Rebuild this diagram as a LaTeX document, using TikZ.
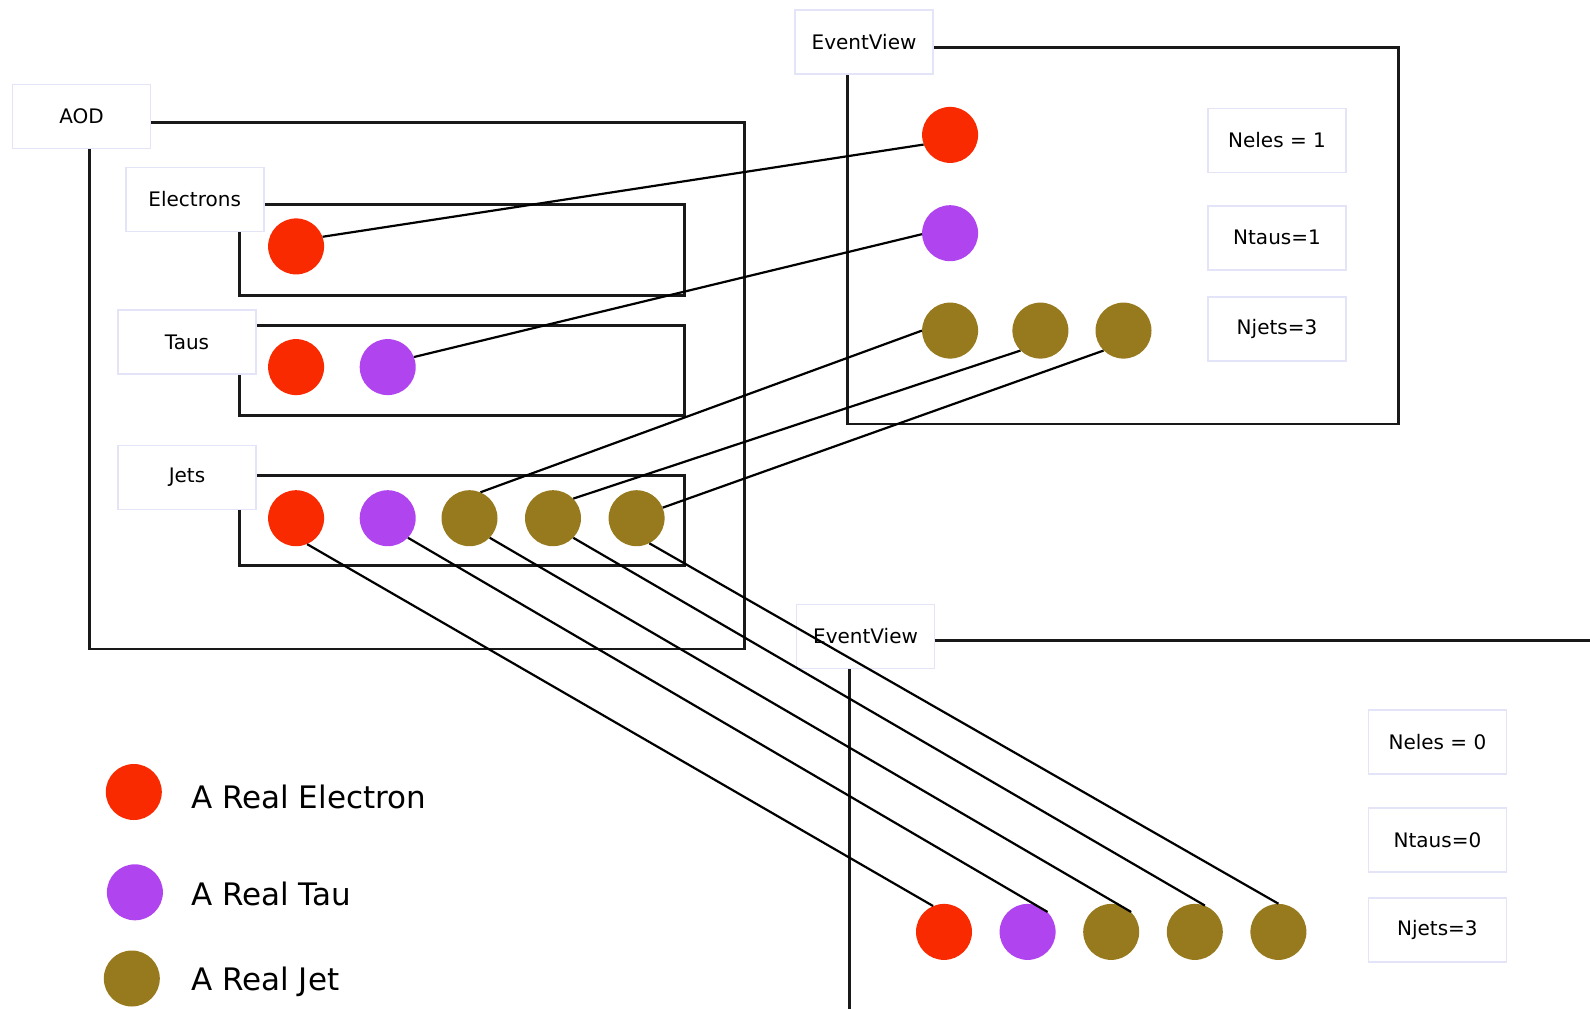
\documentclass[tikz,border=0pt]{standalone}
\usepackage{fontspec}
\setmainfont{DejaVu Sans}
\usetikzlibrary{positioning}
\definecolor{elered}{HTML}{FA2A00}
\definecolor{taupurple}{HTML}{B045F0}
\definecolor{jetgold}{HTML}{987A1E}
\definecolor{tagedge}{HTML}{E4E4F8}

\begin{document}
\begin{tikzpicture}[
      x=1pt, y=-1pt,
      %% Container outlines (corner hidden under the caption box)
      frame/.style={draw=black!90, line width=2.8pt},
      %% Caption boxes: white with a faint lavender edge
      tag/.style={rectangle, draw=tagedge, fill=white, line width=1.6pt,
                  minimum width=138pt, minimum height=64pt, inner sep=0pt,
                  font=\fontsize{20}{24}\selectfont},
      %% Particles
      ele/.style={circle, fill=elered, minimum size=56pt, inner sep=0pt},
      tau/.style={ele, fill=taupurple},
      jet/.style={ele, fill=jetgold},
      link/.style={draw=black, line width=2.2pt},
      key/.style={anchor=base west, font=\fontsize{31}{36}\selectfont},
    ]
    \useasboundingbox (0,0) rectangle (1590,1009);

    %% ── Container outlines ──────────────────────────────────────────────────
    \draw[frame] (89.2,122.7)  rectangle (744.3,649);
    \draw[frame] (239.3,204.8) rectangle (684.5,295.1);
    \draw[frame] (239.3,325.5) rectangle (684.5,415.7);
    \draw[frame] (239.3,475.6) rectangle (684.5,565.8);
    \draw[frame] (847.7,47.7)  rectangle (1398.3,423.9);
    \draw[frame] (849.7,1009) |- (1590,640.8);

    %% ── Captions ────────────────────────────────────────────────────────────
    \node[tag] (aod)       at (81.6,116.6)  {AOD};
    \node[tag] (electrons) at (194.7,199.3) {Electrons};
    \node[tag] (taus)      at (187,342.2)   {Taus};
    \node[tag] (jets)      at (187,477.6)   {Jets};
    \node[tag] (evA)       at (864,42)      {EventView};
    \node[tag] (evB)       at (865.5,636.3) {EventView};

    \node[tag] (nelesA) at (1277,140.5) {Neles = 1};
    \node[tag] (ntausA) at (1277,237.8) {Ntaus=1};
    \node[tag] (njetsA) at (1277,329)   {Njets=3};
    \node[tag] (nelesB) at (1437.4,741.8) {Neles = 0};
    \node[tag] (ntausB) at (1437.4,840.1) {Ntaus=0};
    \node[tag] (njetsB) at (1437.4,929.9) {Njets=3};

    %% ── AOD contents ────────────────────────────────────────────────────────
    \node[ele] (eE) at (296.1,246.4) {};

    \node[ele] (tE) at (296.1,367.1) {};
    \node[tau, right=35.2pt of tE] (tT) {};

    \node[ele] (jE) at (296.1,518.2) {};
    \node[tau, right=35.2pt of jE]  (jT)  {};
    \node[jet] (jJa) at (469.5,518.2) {};
    \node[jet, right=27.1pt of jJa] (jJb) {};
    \node[jet, right=27.2pt of jJb] (jJc) {};

    %% ── First EventView ─────────────────────────────────────────────────────
    \node[ele] (aE)  at (950.1,134.9) {};
    \node[tau] (aT)  at (950.1,233.2) {};
    \node[jet] (aJa) at (950.1,330.6) {};
    \node[jet] (aJb) at (1040.4,330.6) {};
    \node[jet] (aJc) at (1123.5,330.6) {};

    %% ── Second EventView ────────────────────────────────────────────────────
    \node[ele] (bE) at (944,931.9) {};
    \node[tau, right=27.2pt of bE]  (bT)  {};
    \node[jet, right=27.2pt of bT]  (bJa) {};
    \node[jet, right=27.2pt of bJa] (bJb) {};
    \node[jet, right=27.2pt of bJb] (bJc) {};

    %% ── Links (drawn over the particles) ────────────────────────────────────
    \draw[link] (eE.20)  -- (aE.200);
    \draw[link] (tT.21)  -- (aT.182);
    \draw[link] (jJa.67) -- (aJa.180);
    \draw[link] (jJb.44) -- (aJb.225);
    \draw[link] (jJc.22) -- (aJc.225);

    \draw[link] (jE.293)  -- (bE.113);
    \draw[link] (jT.316)  -- (bT.45);
    \draw[link] (jJa.316) -- (bJa.45);
    \draw[link] (jJb.316) -- (bJb.69);
    \draw[link] (jJc.297) -- (bJc.90);

    %% ── Legend ──────────────────────────────────────────────────────────────
    \node[ele] (keyE) at (133.8,792)   {};
    \node[tau] (keyT) at (134.9,892.3) {};
    \node[jet] (keyJ) at (131.8,978.5) {};
    \node[key] (keyEtxt) at (187.6,808.3) {A Real Electron};
    \node[key] (keyTtxt) at (187.6,905.7) {A Real Tau};
    \node[key] (keyJtxt) at (187.6,990)   {A Real Jet};
  \end{tikzpicture}
\end{document}
